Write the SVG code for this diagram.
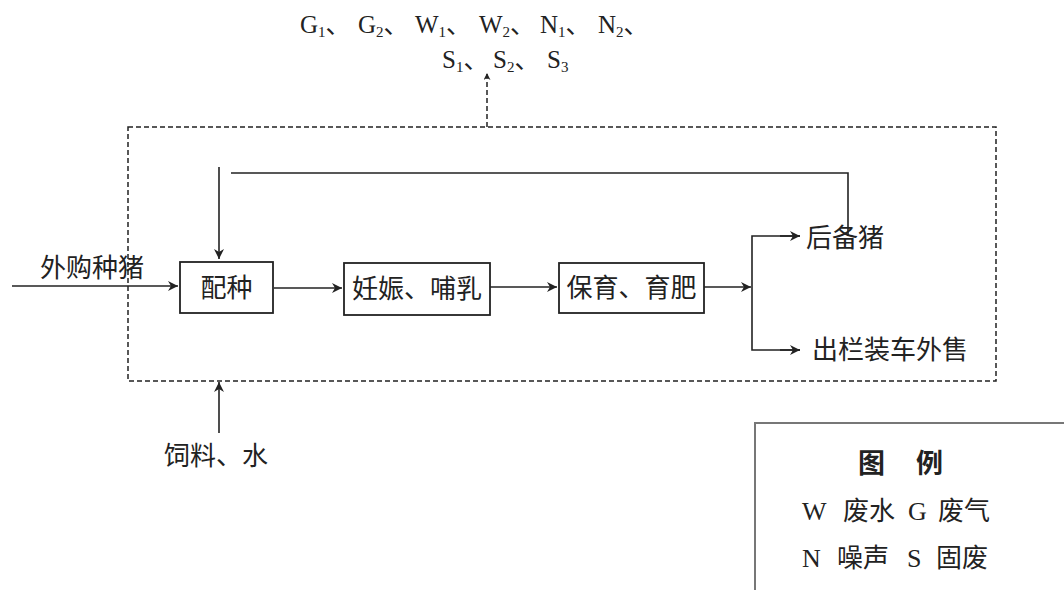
<svg xmlns="http://www.w3.org/2000/svg" width="1064" height="590" viewBox="0 0 1064 590">
<style>
.t{font-family:"Liberation Serif","Noto Sans CJK SC",serif;fill:#222;}
.cn{font-size:26px;}
.ln{stroke:#222;stroke-width:1.6;fill:none;}
.dash{stroke:#222;stroke-width:1.5;fill:none;stroke-dasharray:5 3;}
.box{stroke:#222;stroke-width:1.8;fill:#fff;}
.sub{font-size:15px;}
</style>
<defs>
<marker id="ah" viewBox="0 0 10 10" refX="10" refY="5" markerWidth="10" markerHeight="10" markerUnits="userSpaceOnUse" orient="auto">
<path d="M0,0 L10,5 L0,10 L3,5 z" fill="#222"/>
</marker>
<marker id="ahs" viewBox="0 0 10 10" refX="10" refY="5" markerWidth="7" markerHeight="7" markerUnits="userSpaceOnUse" orient="auto">
<path d="M0,0 L10,5 L0,10 L3,5 z" fill="#222"/>
</marker>
</defs>
<rect width="1064" height="590" fill="#fff"/>

<g id="emissions">
<text class="t" font-size="25" y="33">
<tspan x="300">G</tspan><tspan class="sub" dy="4">1</tspan><tspan dy="-4">、</tspan>
<tspan x="358">G</tspan><tspan class="sub" dy="4">2</tspan><tspan dy="-4">、</tspan>
<tspan x="415">W</tspan><tspan class="sub" dy="4">1</tspan><tspan dy="-4">、</tspan>
<tspan x="479">W</tspan><tspan class="sub" dy="4">2</tspan><tspan dy="-4">、</tspan>
<tspan x="540">N</tspan><tspan class="sub" dy="4">1</tspan><tspan dy="-4">、</tspan>
<tspan x="598">N</tspan><tspan class="sub" dy="4">2</tspan><tspan dy="-4">、</tspan>
</text>
<text class="t" font-size="25" y="68">
<tspan x="442">S</tspan><tspan class="sub" dy="4">1</tspan><tspan dy="-4">、</tspan>
<tspan x="493">S</tspan><tspan class="sub" dy="4">2</tspan><tspan dy="-4">、</tspan>
<tspan x="547">S</tspan><tspan class="sub" dy="4">3</tspan>
</text>
</g>

<g id="boundary">
<rect class="dash" x="128" y="127" width="868" height="254"/>
</g>

<g id="connectors">
<line class="dash" x1="487" y1="127" x2="487" y2="73" marker-end="url(#ahs)"/>
<polyline class="ln" points="848,236 848,173 231,173"/>
<line class="ln" x1="219" y1="167" x2="219" y2="259" marker-end="url(#ah)"/>
<line class="ln" x1="12" y1="286" x2="178" y2="286" marker-end="url(#ah)"/>
<line class="ln" x1="274" y1="288" x2="342" y2="288" marker-end="url(#ah)"/>
<line class="ln" x1="490" y1="287" x2="557" y2="287" marker-end="url(#ah)"/>
<line class="ln" x1="704" y1="287" x2="751" y2="287" marker-end="url(#ah)"/>
<polyline class="ln" points="800,236 752,236 752,350 800,350"/>
<line class="ln" x1="780" y1="236" x2="800" y2="236" marker-end="url(#ah)"/>
<line class="ln" x1="780" y1="350" x2="800" y2="350" marker-end="url(#ah)"/>
<line class="ln" x1="219" y1="433" x2="219" y2="382" marker-end="url(#ah)"/>
</g>

<g id="n-input">
<text class="t cn" x="40" y="277" font-size="27">外购种猪</text>
</g>
<g id="n-peizhong">
<rect class="box" x="180" y="262" width="93" height="51"/>
<text class="t cn" x="226.5" y="297" text-anchor="middle">配种</text>
</g>
<g id="n-renshen">
<rect class="box" x="344" y="263" width="146" height="52"/>
<text class="t cn" x="417" y="298" text-anchor="middle" font-size="27">妊娠、哺乳</text>
</g>
<g id="n-baoyu">
<rect class="box" x="559" y="263" width="145" height="50"/>
<text class="t cn" x="631.5" y="297" text-anchor="middle" font-size="27">保育、育肥</text>
</g>
<g id="n-houbei">
<text class="t cn" x="806" y="247" font-size="25">后备猪</text>
</g>
<g id="n-chulan">
<text class="t cn" x="812" y="359" font-size="29">出栏装车外售</text>
</g>
<g id="n-feed">
<text class="t cn" x="164" y="465" font-size="27">饲料、水</text>
</g>

<g id="legend">
<rect x="755" y="423" width="330" height="200" fill="#fff" stroke="#777" stroke-width="2"/>
<text class="t" y="473" font-size="27" font-weight="bold"><tspan x="858">图</tspan><tspan x="916">例</tspan></text>
<text class="t" y="520" font-size="26"><tspan x="802">W</tspan><tspan x="843">废水</tspan><tspan x="908">G</tspan><tspan x="938">废气</tspan></text>
<text class="t" y="567" font-size="26"><tspan x="802">N</tspan><tspan x="837">噪声</tspan><tspan x="907">S</tspan><tspan x="936">固废</tspan></text>
</g>
</svg>
